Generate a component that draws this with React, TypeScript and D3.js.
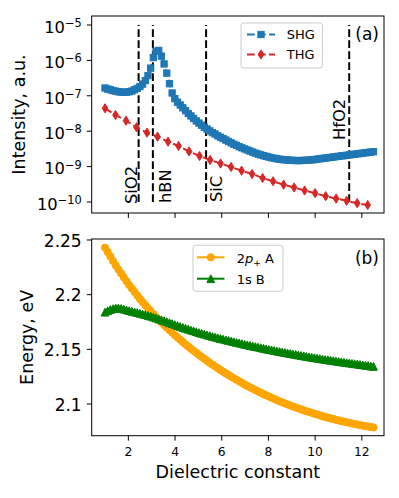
import * as d3 from "d3";

const FONT = "'DejaVu Sans', sans-serif";

// dielectric constant grid of the SHG curve and of panel (b)
const epsFine = [
  1, 1.115, 1.23, 1.345, 1.46, 1.575, 1.69, 1.805, 1.92, 2.035,
  2.15, 2.265, 2.38, 2.495, 2.61, 2.725, 2.84, 2.955, 3.07, 3.185,
  3.3, 3.415, 3.53, 3.645, 3.76, 3.875, 3.99, 4.105, 4.22, 4.335,
  4.45, 4.565, 4.68, 4.795, 4.91, 5.025, 5.14, 5.255, 5.37, 5.485,
  5.6, 5.715, 5.83, 5.945, 6.06, 6.175, 6.29, 6.405, 6.52, 6.635,
  6.75, 6.865, 6.98, 7.095, 7.21, 7.325, 7.44, 7.555, 7.67, 7.785,
  7.9, 8.015, 8.13, 8.245, 8.36, 8.475, 8.59, 8.705, 8.82, 8.935,
  9.05, 9.165, 9.28, 9.395, 9.51, 9.625, 9.74, 9.855, 9.97, 10.085,
  10.2, 10.315, 10.43, 10.545, 10.66, 10.775, 10.89, 11.005, 11.12, 11.235,
  11.35, 11.465, 11.58, 11.695, 11.81, 11.925, 12.04, 12.155, 12.27, 12.385,
  12.5,
];

const shgIntensity = [
  1.66e-7, 1.55e-7, 1.48e-7, 1.4e-7, 1.35e-7, 1.3e-7, 1.27e-7, 1.26e-7, 1.27e-7, 1.3e-7,
  1.36e-7, 1.48e-7, 1.62e-7, 1.82e-7, 2.14e-7, 2.69e-7, 3.72e-7, 6.03e-7, 1.2e-6, 1.82e-6,
  1.91e-6, 1.32e-6, 7.94e-7, 4.37e-7, 2.19e-7, 1.2e-7, 8.32e-8, 6.61e-8, 5.5e-8, 4.57e-8,
  3.8e-8, 3.16e-8, 2.69e-8, 2.29e-8, 1.95e-8, 1.7e-8, 1.48e-8, 1.29e-8, 1.15e-8, 1.02e-8,
  9.12e-9, 8.32e-9, 7.41e-9, 6.76e-9, 6.17e-9, 5.62e-9, 5.13e-9, 4.68e-9, 4.27e-9, 3.98e-9,
  3.63e-9, 3.39e-9, 3.16e-9, 2.95e-9, 2.75e-9, 2.57e-9, 2.4e-9, 2.26e-9, 2.14e-9, 2.04e-9,
  1.95e-9, 1.86e-9, 1.78e-9, 1.72e-9, 1.66e-9, 1.62e-9, 1.58e-9, 1.55e-9, 1.53e-9, 1.51e-9,
  1.5e-9, 1.48e-9, 1.48e-9, 1.48e-9, 1.5e-9, 1.51e-9, 1.53e-9, 1.55e-9, 1.58e-9, 1.62e-9,
  1.66e-9, 1.7e-9, 1.74e-9, 1.78e-9, 1.82e-9, 1.86e-9, 1.91e-9, 1.95e-9, 2.0e-9, 2.04e-9,
  2.09e-9, 2.14e-9, 2.19e-9, 2.24e-9, 2.29e-9, 2.34e-9, 2.4e-9, 2.45e-9, 2.51e-9, 2.57e-9,
  2.63e-9,
];

const epsCoarse = [
  1, 1.45, 1.9, 2.35, 2.8, 3.25, 3.7, 4.15, 4.6, 5.05, 5.5, 5.95, 6.4,
  6.85, 7.3, 7.75, 8.2, 8.65, 9.1, 9.55, 10, 10.45, 10.9, 11.35, 11.8, 12.25,
];

const thgIntensity = [
  4.43e-8, 2.87e-8, 1.98e-8, 1.29e-8, 9.07e-9, 7.0e-9, 5.05e-9, 3.82e-9, 2.67e-9, 1.99e-9,
  1.54e-9, 1.22e-9, 9.75e-10, 7.66e-10, 6.18e-10, 4.76e-10, 3.85e-10, 3.08e-10, 2.57e-10, 2.11e-10,
  1.77e-10, 1.46e-10, 1.25e-10, 1.08e-10, 9.25e-11, 8.22e-11,
];

const energy2pA = [
  2.243, 2.2389, 2.2349, 2.2308, 2.2267, 2.223, 2.2194, 2.2158, 2.2123, 2.2088,
  2.2057, 2.2025, 2.1993, 2.1961, 2.1933, 2.1905, 2.1877, 2.1849, 2.1823, 2.1797,
  2.1772, 2.1747, 2.1722, 2.1699, 2.1676, 2.1653, 2.163, 2.1609, 2.1588, 2.1566,
  2.1545, 2.1525, 2.1506, 2.1487, 2.1468, 2.1449, 2.1431, 2.1413, 2.1395, 2.1377,
  2.1361, 2.1344, 2.1328, 2.1311, 2.1295, 2.128, 2.1265, 2.125, 2.1235, 2.1221,
  2.1207, 2.1193, 2.1178, 2.1165, 2.1153, 2.114, 2.1127, 2.1115, 2.1103, 2.1092,
  2.108, 2.1069, 2.1058, 2.1047, 2.1036, 2.1025, 2.1015, 2.1006, 2.0996, 2.0987,
  2.0977, 2.0968, 2.096, 2.0951, 2.0942, 2.0934, 2.0927, 2.0919, 2.0911, 2.0904,
  2.0897, 2.0889, 2.0882, 2.0875, 2.0869, 2.0863, 2.0856, 2.085, 2.0844, 2.0839,
  2.0833, 2.0828, 2.0822, 2.0817, 2.0812, 2.0807, 2.0802, 2.0798, 2.0794, 2.0789,
  2.0785,
];

const energy1sB = [
  2.184, 2.1853, 2.1864, 2.1872, 2.1877, 2.1878, 2.1874, 2.1868, 2.1861, 2.1854,
  2.1848, 2.1842, 2.1836, 2.183, 2.1823, 2.1817, 2.181, 2.1803, 2.1795, 2.1787,
  2.1778, 2.177, 2.1762, 2.1753, 2.1744, 2.1735, 2.1726, 2.1717, 2.1709, 2.17,
  2.1692, 2.1684, 2.1676, 2.1669, 2.1661, 2.1653, 2.1646, 2.1639, 2.1632, 2.1625,
  2.1618, 2.1612, 2.1605, 2.1599, 2.1593, 2.1587, 2.1581, 2.1575, 2.1569, 2.1563,
  2.1558, 2.1552, 2.1546, 2.1541, 2.1535, 2.153, 2.1525, 2.152, 2.1515, 2.1509,
  2.1504, 2.1499, 2.1495, 2.149, 2.1485, 2.148, 2.1475, 2.1471, 2.1466, 2.1462,
  2.1457, 2.1453, 2.1448, 2.1444, 2.144, 2.1435, 2.1431, 2.1427, 2.1423, 2.1419,
  2.1415, 2.1411, 2.1407, 2.1404, 2.14, 2.1396, 2.1393, 2.1389, 2.1385, 2.1382,
  2.1378, 2.1375, 2.1372, 2.1368, 2.1365, 2.1361, 2.1358, 2.1354, 2.1351, 2.1347,
  2.1344,
];

const substrates = ["SiO2", "hBN", "SiC", "HfO2"];
const substrateEps = [2.44, 3.05, 5.33, 11.46];

const xTickValues = [2, 4, 6, 8, 10, 12];
const logTickExponents = [-5, -6, -7, -8, -9, -10];
const energyTicks = [2.1, 2.15, 2.2, 2.25];
const energyTickLabels = ["2.1", "2.15", "2.2", "2.25"];

const C_SHG = "#1f77b4";
const C_THG = "#d62728";
const C_2P = "#ffa500";
const C_1S = "#008000";

// layout (px)
const L = 91.7, R = 384;
const A = { top: 16, bottom: 213 };
const B = { top: 239, bottom: 435.7 };
// where the rotated substrate names sit, relative to their line
const substrateLabelPos = [
  { dx: -1.9, y: 204 },
  { dx: 18.1, y: 203 },
  { dx: 15.6, y: 202 },
  { dx: -4.2, y: 140 },
];

const square = (cx: number, cy: number, c: string, k: any) => (
  <rect key={k} x={cx - 3.15} y={cy - 3.15} width={6.3} height={6.3} fill={c} stroke={c} strokeWidth={1} />
);
const thinDiamond = (cx: number, cy: number, c: string, k: any) => (
  <path key={k} d={`M${cx},${cy - 4.6}L${cx + 2.8},${cy}L${cx},${cy + 4.6}L${cx - 2.8},${cy}Z`} fill={c} stroke={c} strokeWidth={1} />
);
const dot = (cx: number, cy: number, c: string, k: any) => (
  <circle key={k} cx={cx} cy={cy} r={3.6} fill={c} stroke={c} strokeWidth={1} />
);
const triangle = (cx: number, cy: number, c: string, k: any) => (
  <path key={k} d={`M${cx},${cy - 3.9}L${cx + 3.9},${cy + 3.9}L${cx - 3.9},${cy + 3.9}Z`} fill={c} stroke={c} strokeWidth={1} />
);

export default function App() {
  const x = d3.scaleLinear().domain([0.43, 12.95]).range([L, R]);
  const yA = d3.scaleLog().domain([Math.pow(10, -10.311), Math.pow(10, -4.746)]).range([A.bottom, A.top]);
  const yB = d3.scaleLinear().domain([2.071, 2.2509]).range([B.bottom, B.top]);

  const lineA = (xs: number[]) =>
    d3.line<number>().x((_, i) => x(xs[i])).y((d) => yA(d));
  const lineB = d3.line<number>().x((_, i) => x(epsFine[i])).y((d) => yB(d));

  const dash = "7.7 3.3";

  return (
    <div>
      <style>{"body{margin:0}"}</style>
      <svg width={399} height={498} style={{ display: "block", fontFamily: FONT }}>
        <defs>
          <clipPath id="clipA">
            <rect x={L} y={A.top} width={R - L} height={A.bottom - A.top} />
          </clipPath>
          <clipPath id="clipB">
            <rect x={L} y={B.top} width={R - L} height={B.bottom - B.top} />
          </clipPath>
        </defs>
        <rect width={399} height={498} fill="#fff" />

        {/* ---------- panel (a) ---------- */}
        <g clipPath="url(#clipA)">
          {substrateEps.map((e, i) => (
            <line key={i} x1={x(e)} x2={x(e)} y1={yA(1e-10)} y2={yA(1e-5)} stroke="#000" strokeWidth={2} strokeDasharray={dash} />
          ))}
          <path d={lineA(epsFine)(shgIntensity) || ""} fill="none" stroke={C_SHG} strokeWidth={2} strokeDasharray={dash} />
          {shgIntensity.map((v, i) => square(x(epsFine[i]), yA(v), C_SHG, i))}
          <path d={lineA(epsCoarse)(thgIntensity) || ""} fill="none" stroke={C_THG} strokeWidth={2} strokeDasharray={dash} />
          {thgIntensity.map((v, i) => thinDiamond(x(epsCoarse[i]), yA(v), C_THG, i))}
        </g>
        {substrates.map((s, i) => {
          const bx = x(substrateEps[i]) + substrateLabelPos[i].dx;
          const by = substrateLabelPos[i].y;
          return (
            <text key={s} x={bx} y={by} transform={`rotate(-90 ${bx} ${by})`} fontSize={16.3} fill="#000">
              {s}
            </text>
          );
        })}
        <rect x={L} y={A.top} width={R - L} height={A.bottom - A.top} fill="none" stroke="#000" strokeWidth={1} />
        {xTickValues.map((t) => (
          <line key={t} x1={x(t)} x2={x(t)} y1={A.bottom} y2={A.bottom + 4.9} stroke="#000" strokeWidth={1} />
        ))}
        {logTickExponents.map((e) => {
          const yy = yA(Math.pow(10, e));
          return (
            <g key={e}>
              <line x1={L - 4.9} x2={L} y1={yy} y2={yy} stroke="#000" strokeWidth={1} />
              <text x={81.7} y={yy + 7.8} textAnchor="end" fontSize={16.3} fill="#000">
                10<tspan fontSize={11.4} dy={-5.8}>{"\u2212" + Math.abs(e)}</tspan>
              </text>
            </g>
          );
        })}
        <text transform={`translate(24.5,${(A.top + A.bottom) / 2}) rotate(-90)`} textAnchor="middle" fontSize={17.5} fill="#000">
          Intensity, a.u.
        </text>
        <text x={379} y={39.5} textAnchor="end" fontSize={17} fill="#000">(a)</text>

        {/* legend (a) */}
        <rect x={241} y={23} width={81.5} height={45} rx={2.8} fill="#fff" fillOpacity={0.8} stroke="#cccccc" strokeWidth={1} />
        <line x1={247} x2={275} y1={34.5} y2={34.5} stroke={C_SHG} strokeWidth={2} strokeDasharray={dash} />
        {square(261, 34.5, C_SHG, "ls")}
        <text x={286.7} y={39.3} fontSize={13} fill="#000">SHG</text>
        <line x1={247} x2={275} y1={54.5} y2={54.5} stroke={C_THG} strokeWidth={2} strokeDasharray={dash} />
        {thinDiamond(261, 54.5, C_THG, "lt")}
        <text x={286.7} y={59.3} fontSize={13} fill="#000">THG</text>

        {/* ---------- panel (b) ---------- */}
        <g clipPath="url(#clipB)">
          <path d={lineB(energy2pA) || ""} fill="none" stroke={C_2P} strokeWidth={2} />
          {energy2pA.map((v, i) => dot(x(epsFine[i]), yB(v), C_2P, i))}
          <path d={lineB(energy1sB) || ""} fill="none" stroke={C_1S} strokeWidth={2} />
          {energy1sB.map((v, i) => triangle(x(epsFine[i]), yB(v), C_1S, i))}
        </g>
        <rect x={L} y={B.top} width={R - L} height={B.bottom - B.top} fill="none" stroke="#000" strokeWidth={1} />
        {xTickValues.map((t) => (
          <g key={t}>
            <line x1={x(t)} x2={x(t)} y1={B.bottom} y2={B.bottom + 4.9} stroke="#000" strokeWidth={1} />
            <text x={x(t)} y={455.7} textAnchor="middle" fontSize={12.3} fill="#000">{t}</text>
          </g>
        ))}
        {energyTicks.map((t, i) => (
          <g key={t}>
            <line x1={L - 4.9} x2={L} y1={yB(t)} y2={yB(t)} stroke="#000" strokeWidth={1} />
            <text x={81.7} y={yB(t) + 6.8} textAnchor="end" fontSize={17} fill="#000">{energyTickLabels[i]}</text>
          </g>
        ))}
        <text transform={`translate(32.8,${(B.top + B.bottom) / 2}) rotate(-90)`} textAnchor="middle" fontSize={17.5} fill="#000">
          Energy, eV
        </text>
        <text x={(L + R) / 2} y={478.3} textAnchor="middle" fontSize={17.5} fill="#000">Dielectric constant</text>
        <text x={379} y={264} textAnchor="end" fontSize={17} fill="#000">(b)</text>

        {/* legend (b) */}
        <rect x={193} y={245.3} width={90} height={46} rx={2.8} fill="#fff" fillOpacity={0.8} stroke="#cccccc" strokeWidth={1} />
        <line x1={197} x2={224.5} y1={257.3} y2={257.3} stroke={C_2P} strokeWidth={2} />
        {dot(210.8, 257.3, C_2P, "lo")}
        <text x={236.7} y={262.8} fontSize={13} fill="#000" style={{ whiteSpace: "pre" }}>
          2<tspan fontStyle="italic">p</tspan>
          <tspan fontSize={9} dy={2.8}>+</tspan>
          <tspan dy={-2.8}>{" A"}</tspan>
        </text>
        <line x1={197} x2={224.5} y1={278.7} y2={278.7} stroke={C_1S} strokeWidth={2} />
        {triangle(210.8, 278.7, C_1S, "lg")}
        <text x={236.7} y={284} fontSize={13} fill="#000">1s B</text>
      </svg>
    </div>
  );
}
